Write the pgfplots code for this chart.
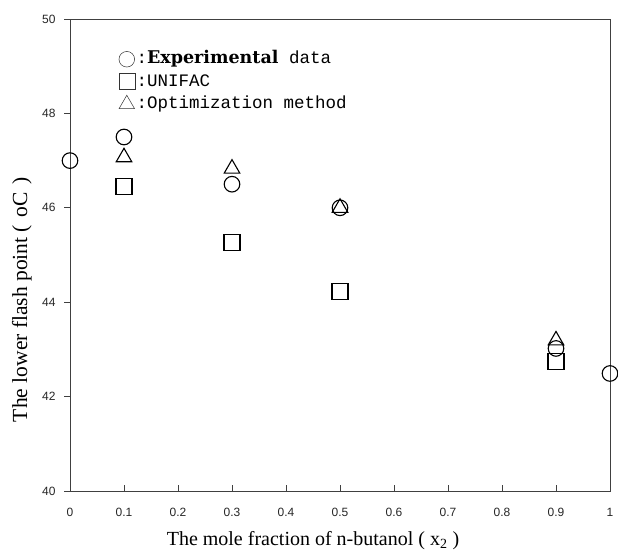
\documentclass[border=0pt]{standalone}
\usepackage{fontspec}
\setmainfont{Liberation Serif}
\setsansfont{Liberation Sans}
\setmonofont{Liberation Mono}
\newfontfamily\legserif{DejaVu Serif}
\usepackage{pgfplots}
\pgfplotsset{compat=1.18}

\begin{document}
\begin{tikzpicture}
\begin{axis}[
  scale only axis, width=540pt, height=472pt,
  xmin=0, xmax=1, ymin=40, ymax=50,
  xtick={0,0.1,0.2,0.3,0.4,0.5,0.6,0.7,0.8,0.9,1},
  xticklabels={0,0.1,0.2,0.3,0.4,0.5,0.6,0.7,0.8,0.9,1},
  ytick={40,42,44,46,48,50},
  tick label style={font=\fontsize{12}{14}\selectfont\sffamily,
    /pgf/number format/assume math mode=true, black!85},
  xticklabel style={yshift=-14pt},
  yticklabel style={xshift=-5pt},
  xtick pos=bottom, ytick pos=left,
  xtick align=inside, ytick align=outside,
  major tick length=6pt,
  tick style={black!75, line width=0.8pt},
  axis line style={black!75, line width=0.8pt},
  clip=false,
  label style={font=\fontsize{20}{24}\selectfont},
  xlabel={The mole fraction of n-butanol ( x\textsubscript{2} )},
  xlabel style={at={(axis description cs:0.45,-0.104)}, anchor=center},
  ylabel={The lower flash point (\hspace{0.35em}oC\hspace{0.35em})},
  ylabel style={at={(axis description cs:-0.089,0.405)}, anchor=center,
    font=\fontsize{21.5}{24}\selectfont},
  legend style={at={(axis cs:0.090,49.39)}, anchor=north west, draw=none,
    fill=none, inner sep=0pt, row sep=0pt,
    font=\fontsize{17.5}{21}\selectfont\ttfamily,
    nodes={text height=14pt, text depth=5pt, inner sep=1.75pt}},
  legend cell align=left,
  legend image code/.code={\draw[mark repeat=2,mark phase=2,#1] plot coordinates {(0cm,0cm)(0.23cm,0cm)(0.46cm,0cm)};},
  legend image post style={line width=0.5pt, black!80},
]
\addplot[only marks, mark=o, mark size=7.8pt, line width=1.1pt, black]
  coordinates {(0,47.0)(0.1,47.5)(0.3,46.5)(0.5,46.0)(0.9,43.02)(1,42.49)};
\addlegendentry{:{\legserif\bfseries Experimental} data}
\addplot[only marks, mark=square, mark size=8pt, line width=1.1pt, black]
  coordinates {(0.1,46.45)(0.3,45.27)(0.5,44.22)(0.9,42.75)};
\addlegendentry{:UNIFAC}
\addplot[only marks, mark=triangle, mark size=9pt, line width=1.1pt, black]
  coordinates {(0.1,47.07)(0.3,46.83)(0.5,46.0)(0.9,43.19)};
\addlegendentry{:Optimization method}
\end{axis}
\pgfresetboundingbox
\path[use as bounding box] (-70pt,-67pt) rectangle (548pt,491pt);
\end{tikzpicture}
\end{document}
